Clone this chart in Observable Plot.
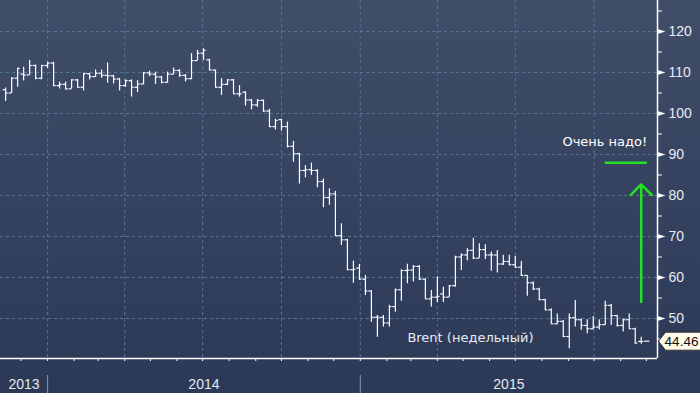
<!DOCTYPE html>
<html>
<head>
<meta charset="utf-8">
<script src="https://cdn.jsdelivr.net/npm/d3@7"></script>
<script src="https://cdn.jsdelivr.net/npm/@observablehq/plot@0.6"></script>
<style>
  html, body { margin: 0; padding: 0; background: #2d3a57; }
  #chart svg { display: block; }
</style>
</head>
<body>
<div id="chart"></div>
<script>
// ---- Data: weekly Brent OHLC bars (first bar week of 2013-11-13) ----
const firstWeek = "2013-11-13";
const open  = [105.8,105.0,108.6,109.6,109.4,111.7,108.6,111.7,112.3,106.8,107.1,106.0,108.2,106.4,109.7,109.0,109.8,109.3,109.2,108.4,106.8,108.0,106.4,107.2,109.9,109.6,108.9,107.6,109.6,110.5,109.3,108.5,112.9,114.7,113.1,110.6,106.4,107.1,108.2,104.8,105.2,103.3,102.1,103.2,100.6,96.8,98.5,96.8,92.0,90.2,86.1,86.3,86.1,83.4,79.5,80.4,70.2,69.2,61.9,62.3,59.6,56.7,50.3,50.3,48.9,52.9,57.0,61.7,61.8,62.7,59.6,54.8,55.2,56.0,55.2,58.0,65.0,65.5,66.6,64.7,66.8,65.5,65.5,63.3,63.9,63.1,62.5,60.5,58.7,57.2,54.6,52.1,48.7,49.3,45.6,50.2,49.7,48.3,47.5,47.9,48.5,53.2,50.7,48.3,49.7,47.5,44.4,44.46];
const high  = [106.2,108.7,111.0,111.3,112.9,111.8,111.7,112.5,112.5,107.6,107.6,108.2,108.3,109.8,109.8,110.6,110.6,112.3,109.3,108.6,108.2,108.2,108.0,110.0,110.3,110.1,109.0,110.1,111.1,110.7,109.5,114.6,115.4,115.8,113.2,110.6,108.5,108.2,108.3,106.8,105.3,103.4,103.4,103.3,101.0,98.6,98.6,97.9,93.2,90.3,87.3,87.9,86.3,84.0,81.6,81.0,73.1,69.3,64.0,63.2,60.5,56.8,50.7,50.7,53.2,57.2,61.9,63.2,62.9,62.9,59.7,56.8,60.1,57.6,58.0,65.2,65.8,67.0,69.6,68.2,68.0,66.2,66.6,65.4,65.4,65.2,63.9,60.5,58.9,57.4,54.7,52.4,51.1,49.5,51.1,54.4,49.9,49.7,50.5,49.7,54.2,53.4,50.8,49.9,51.1,47.6,45.4,44.46];
const low   = [102.9,104.9,106.4,107.9,109.3,108.2,108.2,111.0,106.8,106.0,105.8,105.9,106.4,105.5,108.2,108.8,108.6,107.4,107.2,105.5,106.4,104.0,105.1,107.0,109.0,107.1,107.2,107.4,109.4,108.8,107.7,108.2,112.8,112.9,110.5,106.4,104.4,106.8,104.8,104.0,101.8,100.9,101.5,100.3,96.7,96.0,95.7,91.6,88.1,82.8,84.3,84.9,81.9,77.0,77.6,70.0,67.8,61.7,58.6,59.4,55.6,49.1,45.4,47.9,47.9,51.5,54.2,58.5,58.9,59.3,54.8,52.8,53.9,53.9,55.1,57.6,61.7,64.1,64.4,64.6,64.4,61.5,61.1,62.9,62.9,62.3,60.3,55.4,56.8,54.4,52.0,48.7,48.5,45.4,42.6,47.9,47.1,46.3,47.2,47.2,48.3,48.3,47.9,46.7,47.5,43.8,43.7,44.46];
const close = [105.0,108.6,111.0,109.4,111.7,108.6,111.7,112.3,106.8,107.1,106.0,108.2,106.4,109.7,109.0,109.8,109.3,109.2,108.4,106.8,108.0,106.4,107.2,109.9,109.6,108.9,107.6,109.6,110.5,109.3,108.5,112.9,114.7,115.4,110.6,106.4,107.1,108.2,104.8,104.8,103.3,102.1,103.2,100.6,96.8,98.3,96.8,92.0,90.2,86.1,86.3,86.1,83.4,79.5,80.4,70.2,69.2,61.9,62.0,59.6,56.7,50.3,50.3,48.9,52.9,57.0,61.7,61.8,62.7,59.6,54.8,55.2,55.4,55.2,58.0,65.0,65.5,66.6,64.7,66.8,65.5,65.5,63.3,63.9,63.1,62.5,60.5,58.7,57.2,54.6,52.1,48.7,49.3,45.6,50.2,49.7,48.3,47.5,47.9,48.5,53.2,50.7,48.3,49.7,47.5,44.0,44.4,44.46];

// ---- Axis / labels ----
const yMajorTicks = [50, 60, 70, 80, 90, 100, 110, 120];
const yMinorTicks = [45, 55, 65, 75, 85, 95, 105, 115, 125];
const yearLabels = ["2013", "2014", "2015"];
const seriesLabel = "Brent (недельный)";
const lastPrice = [44.46];

// ---- Annotation (green) ----
const noteText = "Очень надо!";
const noteLevel = [88];          // horizontal target line
const noteTextLevel = 93.2;
const arrowFrom = 54, arrowTo = 82.7;

// ---- build table ----
const start = new Date(firstWeek + "T00:00:00Z");
const bars = close.map((c, i) => ({
  date: d3.utcWeek.offset(start, i),
  open: open[i], high: high[i], low: low[i], close: c
}));
const xDomain = [new Date("2013-11-07T00:00:00Z"), new Date("2015-12-14T00:00:00Z")];
const yDomain = [40.24, 127.56];

const tickLen = 3 * 24; // hours for open/close ticks
const monthTicks = d3.utcMonth.range(d3.utcMonth.ceil(xDomain[0]), xDomain[1]);
const quarterTicks = d3.utcMonth.every(3).range(xDomain[0], xDomain[1]);
const yearStarts = d3.utcYear.range(d3.utcYear.ceil(xDomain[0]), xDomain[1]);
const yearMid = yearLabels.map(y => {
  const a = new Date(`${y}-01-01T00:00:00Z`), b = new Date(`${+y + 1}-01-01T00:00:00Z`);
  const lo = a < xDomain[0] ? xDomain[0] : a, hi = b > xDomain[1] ? xDomain[1] : b;
  return {label: y, date: new Date((+lo + +hi) / 2)};
});

const n = bars.length;
const arrowData = [{x: bars[n - 2].date, y1: arrowFrom, y2: arrowTo}];
const noteLine = [{y: noteLevel[0], x1: bars[n - 8].date, x2: bars[n - 1].date}];

const triangle = {draw(ctx) { ctx.moveTo(0, -2.5); ctx.lineTo(8, 0); ctx.lineTo(0, 2.5); ctx.closePath(); }};
const priceBox = {draw(ctx) { ctx.moveTo(1, 0); ctx.lineTo(8, -9); ctx.lineTo(46, -9); ctx.lineTo(46, 9); ctx.lineTo(8, 9); ctx.closePath(); }};

const gridColor = "#587690";
const green = "#22e022";
const labelFont = "'Liberation Sans Narrow', 'Liberation Sans', Arial, sans-serif";
const textFont = "'DejaVu Sans', Verdana, sans-serif";

const chart = Plot.plot({
  width: 700,
  height: 393,
  marginLeft: 0,
  marginTop: 0,
  marginRight: 43,
  marginBottom: 35,
  style: {
    background: "linear-gradient(to bottom, #414e6a 0%, #3a4763 30%, #323f5d 65%, #2c3956 100%)",
    color: "white",
    overflow: "visible"
  },
  x: {type: "utc", domain: xDomain},
  y: {domain: yDomain},
  marks: [
    // grid
    Plot.ruleY(yMajorTicks, {y: d => d, stroke: gridColor, strokeDasharray: "3,3"}),
    Plot.ruleX(quarterTicks, {x: d => d, stroke: gridColor, strokeDasharray: "3,3"}),
    // axis lines
    Plot.ruleY([yDomain[0]], {stroke: "white", strokeWidth: 1.5}),
    Plot.ruleX([xDomain[1]], {stroke: "white", strokeWidth: 1.5}),
    // x axis ticks and year band
    Plot.axisX(monthTicks, {anchor: "bottom", tickSize: 3, tickFormat: () => "", stroke: "white"}),
    Plot.axisX(yearStarts, {anchor: "bottom", tickSize: 18, dy: 17, tickFormat: () => "", stroke: "#8d99ad"}),
    Plot.text(yearMid, {x: "date", text: "label", frameAnchor: "bottom", dy: 26, fill: "#e3e8f1",
      fontSize: 14, fontFamily: labelFont, lineAnchor: "middle"}),
    // y axis
    Plot.axisY(yMinorTicks, {anchor: "right", tickSize: 4, tickFormat: () => "", stroke: "white"}),
    Plot.axisY(yMajorTicks, {anchor: "right", tickSize: 0, tickPadding: 11, fill: "#e8ecf4",
      fontSize: 14, fontFamily: labelFont}),
    Plot.dot(yMajorTicks, {y: d => d, frameAnchor: "right", symbol: triangle, fill: "white", stroke: "none"}),
    // OHLC bars
    Plot.ruleX(bars, {x: "date", y1: "low", y2: "high", stroke: "white", strokeWidth: 1.2}),
    Plot.ruleY(bars, {y: "open", x1: d => d3.utcHour.offset(d.date, -tickLen), x2: "date", stroke: "white", strokeWidth: 1.2}),
    Plot.ruleY(bars, {y: "close", x1: "date", x2: d => d3.utcHour.offset(d.date, tickLen), stroke: "white", strokeWidth: 1.2}),
    // series label
    Plot.text([seriesLabel], {x: bars[67].date, y: 45.4, text: d => d, textAnchor: "start",
      fill: "#e6ecf5", fontSize: 13, fontFamily: textFont}),
    // annotation
    Plot.ruleY(noteLine, {y: "y", x1: "x1", x2: "x2", stroke: green, strokeWidth: 2.5}),
    Plot.arrow(arrowData, {x1: "x", x2: "x", y1: "y1", y2: "y2", stroke: green, strokeWidth: 2.5,
      headLength: 9, headAngle: 90}),
    Plot.text([noteText], {x: bars[n - 1].date, y: noteTextLevel, text: d => d, textAnchor: "end",
      fill: "white", fontSize: 13, fontFamily: textFont}),
    // last price label
    Plot.dot(lastPrice, {y: d => d, frameAnchor: "right", symbol: priceBox, fill: "#fffbe8", stroke: "#333", strokeWidth: 1}),
    Plot.text(lastPrice, {y: d => d, text: d => d.toFixed(2), frameAnchor: "right", dx: 24, textAnchor: "middle",
      fill: "#111", fontSize: 13.5, fontFamily: labelFont})
  ]
});
document.getElementById("chart").appendChild(chart);
</script>
</body>
</html>
